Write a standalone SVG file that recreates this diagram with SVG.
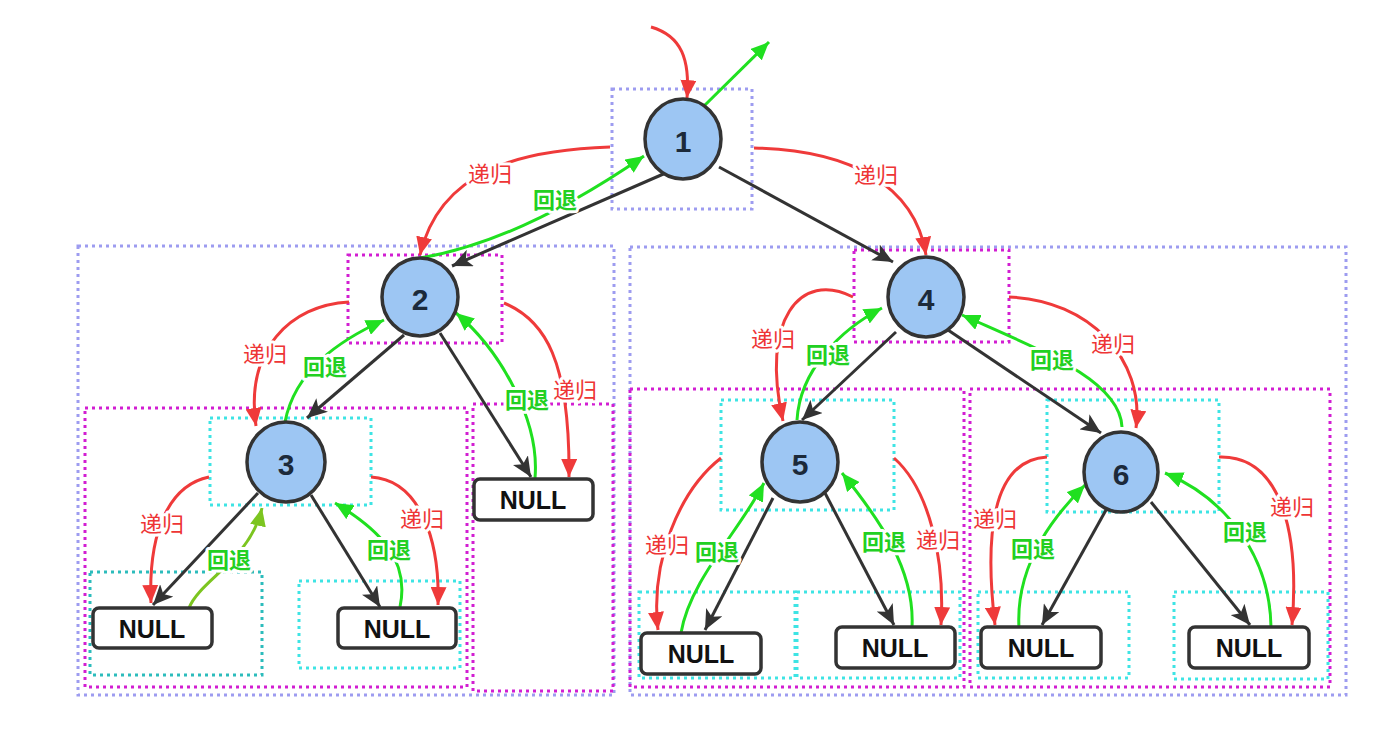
<svg xmlns="http://www.w3.org/2000/svg" width="1384" height="736" viewBox="0 0 1384 736">
<style>
.bg{fill:#fff}
.lav{fill:none;stroke:#9d9cf0;stroke-width:3;stroke-dasharray:3 4}
.mag{fill:none;stroke:#d21ed2;stroke-width:3;stroke-dasharray:3 4}
.cya{fill:none;stroke:#3ee4e4;stroke-width:3;stroke-dasharray:3 4}
.tea{fill:none;stroke:#2cbcbc;stroke-width:3;stroke-dasharray:3 4}
.r{fill:none;stroke:#ef3a3a;stroke-width:3;marker-end:url(#aR)}
.g{fill:none;stroke:#20e020;stroke-width:3;marker-end:url(#aG)}
.y{fill:none;stroke:#7cc520;stroke-width:3;marker-end:url(#aY)}
.k{fill:none;stroke:#333;stroke-width:3;marker-end:url(#aK)}
.lr,.lg{font-family:"Noto Sans CJK SC","Noto Sans",sans-serif;font-size:22px;text-anchor:middle;dominant-baseline:central;stroke:#fff;stroke-width:6;paint-order:stroke;stroke-linejoin:round}
.lr{fill:#ee3535}
.lg{fill:#22d022;font-weight:bold}
.node ellipse{fill:#9dc6f3;stroke:#333;stroke-width:3.5}
.node text{font-family:"Liberation Sans",Arial,sans-serif;font-weight:bold;font-size:30px;fill:#1c2a3a;text-anchor:middle;dominant-baseline:central}
.nul rect{fill:#fff;stroke:#333;stroke-width:3.5}
.nul text{font-family:"Liberation Sans",Arial,sans-serif;font-weight:bold;font-size:25px;fill:#111;text-anchor:middle;dominant-baseline:central}
</style>
<defs>
<marker id="aR" markerUnits="userSpaceOnUse" markerWidth="20" markerHeight="16" refX="18" refY="8" orient="auto"><path d="M0,0 L18,8 L0,16 Z" fill="#ef3a3a"/></marker>
<marker id="aG" markerUnits="userSpaceOnUse" markerWidth="20" markerHeight="16" refX="18" refY="8" orient="auto"><path d="M0,0 L18,8 L0,16 Z" fill="#20e020"/></marker>
<marker id="aY" markerUnits="userSpaceOnUse" markerWidth="20" markerHeight="16" refX="18" refY="8" orient="auto"><path d="M0,0 L18,8 L0,16 Z" fill="#7cc520"/></marker>
<marker id="aK" markerUnits="userSpaceOnUse" markerWidth="22" markerHeight="18" refX="20" refY="9" orient="auto"><path d="M0,0 L20,9 L0,18 L5,9 Z" fill="#333"/></marker>
</defs>
<rect class="bg" x="0" y="0" width="1384" height="736"/>
<g id="frames">
<rect class="lav" x="612" y="89" width="140" height="120"/>
<rect class="lav" x="78" y="246" width="536" height="449"/>
<rect class="lav" x="630" y="247" width="716" height="448"/>
<rect class="mag" x="348" y="255" width="154" height="88"/>
<rect class="mag" x="854" y="250" width="155" height="92"/>
<rect class="mag" x="85" y="408" width="382" height="279"/>
<rect class="mag" x="473" y="404" width="140" height="287"/>
<rect class="mag" x="630" y="389" width="334" height="298"/>
<rect class="mag" x="970" y="389" width="360" height="298"/>
<rect class="cya" x="210" y="418" width="161" height="87"/>
<rect class="tea" x="90" y="572" width="172" height="103"/>
<rect class="cya" x="299" y="581" width="161" height="87"/>
<rect class="cya" x="721" y="400" width="173" height="110"/>
<rect class="cya" x="1047" y="400" width="172" height="112"/>
<rect class="cya" x="639" y="592" width="156" height="86"/>
<rect class="cya" x="797" y="592" width="163" height="86"/>
<rect class="cya" x="978" y="592" width="151" height="86"/>
<rect class="cya" x="1174" y="592" width="154" height="87"/>
</g>
<g id="connectors">
<path class="r" d="M651,27 C682,36 690,60 687,98"/>
<path class="g" d="M704,106 L769,42"/>
<path class="k" d="M668,172 L452,266"/>
<path class="k" d="M719,167 L893,262"/>
<path class="r" d="M610,147 C520,150 440,170 420,255"/>
<path class="g" d="M420,258 C500,245 580,200 644,156"/>
<path class="r" d="M754,148 C850,150 915,185 926,255"/>
<text class="lr" x="490" y="172">递归</text>
<text class="lg" x="555" y="198">回退</text>
<text class="lr" x="876" y="173">递归</text>

<path class="k" d="M404,335 L307,418"/>
<path class="k" d="M440,333 L531,477"/>
<path class="r" d="M349,302 C290,305 245,350 256,426"/>
<path class="g" d="M285,422 C295,370 340,340 384,320"/>
<path class="g" d="M535,478 C540,420 500,350 456,313"/>
<path class="r" d="M504,303 C545,320 570,360 569,477"/>
<text class="lr" x="265" y="352">递归</text>
<text class="lg" x="325" y="365">回退</text>
<text class="lg" x="527" y="398">回退</text>
<text class="lr" x="575" y="388">递归</text>

<path class="k" d="M258,493 L153,605"/>
<path class="k" d="M311,495 L380,607"/>
<path class="r" d="M209,477 C170,485 148,530 151,603"/>
<path class="y" d="M189,608 C200,580 250,560 262,508"/>
<path class="g" d="M400,607 C410,560 380,530 335,503"/>
<path class="r" d="M371,477 C420,480 440,540 438,605"/>
<text class="lr" x="162" y="522">递归</text>
<text class="lg" x="229" y="558">回退</text>
<text class="lg" x="389" y="548">回退</text>
<text class="lr" x="422" y="517">递归</text>

<path class="k" d="M896,332 L802,420"/>
<path class="k" d="M945,328 L1101,433"/>
<path class="r" d="M853,297 C800,270 760,320 783,421"/>
<path class="g" d="M797,420 C800,370 840,330 882,308"/>
<path class="g" d="M1122,427 C1120,380 1040,350 962,315"/>
<path class="r" d="M1009,297 C1090,300 1145,360 1136,428"/>
<text class="lr" x="773" y="337">递归</text>
<text class="lg" x="828" y="353">回退</text>
<text class="lg" x="1052" y="358">回退</text>
<text class="lr" x="1113" y="342">递归</text>

<path class="k" d="M773,498 L705,630"/>
<path class="k" d="M825,493 L894,625"/>
<path class="r" d="M721,458 C680,490 650,560 658,630"/>
<path class="g" d="M681,633 C690,580 740,530 764,483"/>
<path class="g" d="M912,627 C915,570 880,520 842,473"/>
<path class="r" d="M894,458 C930,490 945,560 941,625"/>
<text class="lr" x="667" y="543">递归</text>
<text class="lg" x="717" y="550">回退</text>
<text class="lg" x="884" y="540">回退</text>
<text class="lr" x="938" y="538">递归</text>

<path class="k" d="M1106,510 L1042,625"/>
<path class="k" d="M1151,502 L1250,625"/>
<path class="r" d="M1047,457 C990,460 985,540 995,625"/>
<path class="g" d="M1019,628 C1015,560 1060,510 1085,485"/>
<path class="g" d="M1271,627 C1270,560 1230,500 1165,473"/>
<path class="r" d="M1219,457 C1280,455 1300,530 1292,625"/>
<text class="lr" x="995" y="517">递归</text>
<text class="lg" x="1033" y="547">回退</text>
<text class="lg" x="1245" y="530">回退</text>
<text class="lr" x="1292" y="505">递归</text>
</g>
<g id="n1" class="node"><ellipse cx="683" cy="139" rx="38" ry="40"/><text x="683" y="141">1</text></g>
<g id="n2" class="node"><ellipse cx="420" cy="297" rx="38" ry="39"/><text x="420" y="299">2</text></g>
<g id="n4" class="node"><ellipse cx="926" cy="297" rx="38" ry="40"/><text x="926" y="299">4</text></g>
<g id="n3" class="node"><ellipse cx="286" cy="462" rx="39" ry="40"/><text x="286" y="464">3</text></g>
<g id="n5" class="node"><ellipse cx="800" cy="462" rx="38" ry="40"/><text x="800" y="464">5</text></g>
<g id="n6" class="node"><ellipse cx="1121" cy="472" rx="37" ry="40"/><text x="1121" y="474">6</text></g>
<g id="null3L" class="nul"><rect x="93" y="608" width="119" height="40" rx="6"/><text x="152" y="629">NULL</text></g>
<g id="null3R" class="nul"><rect x="338" y="608" width="118" height="40" rx="6"/><text x="397" y="629">NULL</text></g>
<g id="null2R" class="nul"><rect x="474" y="479" width="119" height="41" rx="6"/><text x="533" y="500">NULL</text></g>
<g id="null5L" class="nul"><rect x="641" y="633" width="120" height="41" rx="6"/><text x="701" y="654">NULL</text></g>
<g id="null5R" class="nul"><rect x="836" y="627" width="119" height="41" rx="6"/><text x="895" y="648">NULL</text></g>
<g id="null6L" class="nul"><rect x="981" y="627" width="120" height="41" rx="6"/><text x="1041" y="648">NULL</text></g>
<g id="null6R" class="nul"><rect x="1189" y="627" width="120" height="41" rx="6"/><text x="1249" y="648">NULL</text></g>
</svg>
